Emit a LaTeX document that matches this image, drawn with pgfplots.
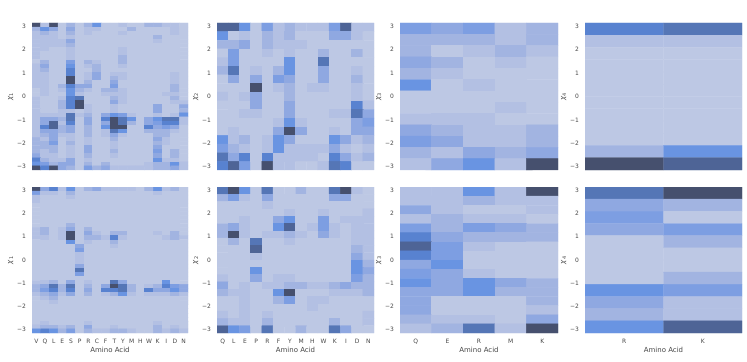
\documentclass[border=0pt]{standalone}
\usepackage{fontspec}
\setmainfont{DejaVu Sans}
\usepackage{pgfplots}
\pgfplotsset{compat=1.18}
\definecolor{txt}{RGB}{70,70,70}
% one heatmap: columns, rows, then the cell levels row by row from the top
\newcommand\hm[3]{\addplot[matrix plot*,mesh/cols=#1,mesh/rows=#2,point meta=explicit]
  table[row sep=\\,header=false,meta index=0,
    x expr={floor(mod(\coordindex+0.5,#1))},
    y expr={3.1416-(floor((\coordindex+0.5)/#1)+0.5)*6.2832/#2}] {#3};}
\pgfplotsset{
  heat/.style={scale only axis,anchor=south west,width=156bp,
    ymin=-3.1416,ymax=3.1416,axis line style={draw=none},
    major tick length=0pt,tick align=outside,
    ytick={-3,-2,-1,0,1,2,3},yticklabels={−3,−2,−1,0,1,2,3},
    tick label style={font=\fontsize{6}{7}\selectfont,text=txt},
    label style={font=\fontsize{7}{8}\selectfont,text=txt},
    xticklabel style={yshift=-3bp},
    yticklabel style={xshift=-2.5bp},
    xlabel style={yshift=4bp},
    ylabel style={yshift=-3bp},
    colormap={rk}{rgb255=(189,200,228) rgb255=(179,192,227) rgb255=(162,180,225)
      rgb255=(143,168,225) rgb255=(125,158,226) rgb255=(105,148,226)
      rgb255=(88,130,208) rgb255=(85,118,182) rgb255=(78,100,150) rgb255=(70,80,110)},
    point meta min=0,point meta max=9},
  top/.style={heat,height=147bp,xtick=\empty},
  bot/.style={heat,height=146bp,xlabel={Amino Acid}},
}
\begin{document}
\begin{tikzpicture}[x=1bp,y=1bp]
\path[use as bounding box] (0,0) rectangle (747,361);

\begin{axis}[top,at={(32bp,191bp)},xmin=-0.5,xmax=17.5,ylabel={\textit{χ}\textsubscript{1}}]
\hm{18}{36}{
9\\1\\9\\0\\2\\0\\2\\5\\0\\0\\1\\0\\0\\2\\2\\1\\1\\0\\
2\\5\\3\\0\\3\\0\\1\\1\\0\\0\\0\\2\\0\\0\\0\\0\\1\\0\\
1\\2\\1\\0\\2\\0\\1\\0\\0\\0\\1\\0\\0\\0\\0\\0\\1\\0\\
1\\1\\1\\0\\1\\0\\0\\0\\0\\0\\0\\0\\0\\0\\2\\0\\0\\0\\
1\\1\\1\\1\\3\\0\\0\\0\\0\\0\\0\\0\\0\\0\\1\\0\\0\\0\\
1\\1\\1\\1\\2\\0\\0\\0\\0\\0\\0\\0\\0\\0\\0\\0\\0\\0\\
1\\1\\0\\0\\1\\0\\0\\0\\0\\0\\1\\0\\0\\0\\0\\0\\0\\0\\
1\\0\\0\\0\\1\\0\\0\\0\\0\\0\\1\\0\\0\\0\\0\\0\\0\\0\\
1\\0\\0\\0\\1\\0\\0\\0\\0\\0\\2\\0\\0\\0\\0\\0\\0\\0\\
0\\2\\0\\0\\4\\0\\2\\1\\0\\0\\2\\0\\0\\0\\0\\0\\0\\0\\
1\\3\\0\\0\\5\\0\\1\\2\\0\\0\\1\\0\\0\\0\\0\\0\\0\\0\\
1\\2\\0\\0\\6\\0\\0\\2\\0\\0\\0\\0\\0\\0\\0\\0\\0\\0\\
1\\1\\0\\0\\6\\0\\1\\3\\0\\1\\1\\0\\0\\0\\0\\0\\1\\0\\
1\\1\\0\\0\\9\\0\\1\\3\\0\\2\\1\\0\\0\\0\\0\\0\\1\\0\\
1\\1\\0\\0\\9\\0\\2\\0\\0\\3\\0\\0\\0\\0\\0\\0\\1\\0\\
1\\1\\0\\2\\6\\3\\3\\0\\0\\4\\0\\0\\0\\0\\0\\0\\2\\0\\
0\\1\\0\\1\\5\\2\\1\\0\\2\\2\\1\\0\\0\\0\\0\\0\\2\\0\\
0\\1\\0\\0\\5\\1\\0\\0\\1\\1\\1\\0\\0\\0\\0\\1\\1\\0\\
1\\0\\0\\1\\6\\7\\0\\0\\0\\2\\1\\0\\0\\0\\0\\0\\2\\0\\
1\\0\\0\\2\\6\\9\\0\\0\\0\\3\\1\\0\\0\\0\\0\\0\\1\\1\\
1\\0\\0\\2\\6\\9\\1\\0\\0\\1\\0\\0\\0\\0\\3\\0\\0\\3\\
1\\0\\0\\1\\1\\0\\1\\0\\0\\1\\0\\0\\0\\0\\3\\0\\0\\2\\
1\\1\\1\\1\\7\\1\\2\\0\\3\\5\\4\\1\\0\\0\\1\\0\\1\\5\\
1\\3\\3\\2\\7\\0\\3\\0\\6\\9\\7\\5\\0\\3\\5\\7\\7\\1\\
1\\3\\8\\1\\6\\0\\3\\0\\3\\9\\7\\2\\0\\3\\4\\6\\6\\1\\
1\\6\\8\\2\\3\\0\\2\\0\\5\\9\\9\\0\\0\\6\\3\\4\\3\\0\\
1\\3\\3\\2\\3\\0\\2\\0\\1\\7\\5\\0\\0\\2\\2\\2\\1\\0\\
1\\2\\3\\1\\1\\0\\2\\0\\1\\3\\1\\0\\0\\0\\2\\2\\0\\0\\
2\\1\\3\\0\\1\\0\\1\\0\\0\\2\\0\\0\\0\\0\\3\\1\\0\\0\\
2\\2\\4\\0\\2\\0\\1\\0\\0\\1\\0\\0\\0\\0\\2\\1\\0\\0\\
2\\2\\2\\0\\1\\0\\3\\0\\0\\1\\0\\0\\0\\0\\3\\0\\0\\0\\
2\\1\\2\\0\\1\\0\\3\\0\\0\\2\\0\\0\\0\\0\\4\\0\\2\\0\\
3\\1\\1\\0\\1\\0\\2\\0\\0\\1\\0\\0\\0\\0\\3\\0\\2\\0\\
6\\2\\1\\1\\3\\0\\1\\0\\0\\0\\0\\0\\0\\0\\5\\1\\1\\0\\
5\\4\\2\\3\\3\\0\\2\\0\\2\\0\\0\\0\\0\\1\\2\\2\\5\\1\\
9\\6\\9\\3\\2\\0\\4\\2\\3\\1\\1\\1\\1\\1\\2\\2\\3\\1\\
}
\end{axis}

\begin{axis}[top,at={(217bp,191bp)},width=157bp,xmin=-0.5,xmax=13.5,ylabel={\textit{χ}\textsubscript{2}}]
\hm{14}{17}{
8\\8\\5\\0\\4\\1\\2\\1\\1\\1\\4\\8\\1\\1\\
5\\0\\1\\0\\2\\1\\2\\0\\0\\0\\3\\3\\1\\0\\
2\\2\\3\\0\\2\\1\\1\\1\\0\\0\\0\\0\\0\\0\\
0\\4\\0\\0\\1\\0\\1\\0\\0\\2\\0\\0\\2\\0\\
1\\4\\0\\0\\0\\0\\5\\0\\0\\7\\0\\0\\0\\0\\
2\\7\\0\\1\\0\\2\\5\\0\\0\\3\\0\\0\\1\\0\\
0\\3\\0\\3\\0\\4\\3\\0\\0\\3\\0\\0\\2\\0\\
0\\0\\0\\9\\0\\1\\2\\0\\1\\1\\0\\0\\1\\0\\
1\\0\\1\\3\\0\\0\\2\\0\\0\\0\\0\\0\\1\\0\\
0\\0\\0\\3\\0\\0\\3\\0\\0\\0\\0\\0\\6\\1\\
0\\0\\1\\1\\0\\0\\3\\0\\0\\0\\1\\1\\7\\3\\
0\\0\\0\\0\\0\\1\\5\\1\\0\\0\\0\\0\\3\\4\\
0\\1\\0\\0\\0\\3\\9\\3\\0\\0\\1\\0\\3\\3\\
5\\1\\2\\0\\1\\5\\3\\0\\0\\0\\5\\3\\1\\2\\
4\\2\\1\\0\\1\\5\\1\\1\\1\\1\\3\\1\\0\\1\\
7\\3\\6\\0\\6\\1\\1\\1\\1\\0\\6\\3\\1\\2\\
6\\8\\4\\0\\9\\1\\1\\0\\0\\1\\7\\6\\0\\0\\
}
\end{axis}

\begin{axis}[top,at={(400bp,191bp)},width=158bp,xmin=-0.5,xmax=4.5,ylabel={\textit{χ}\textsubscript{3}}]
\hm{5}{13}{
4\\3\\4\\1\\2\\
2\\2\\2\\1\\2\\
2\\0\\1\\2\\1\\
3\\2\\0\\1\\0\\
2\\1\\0\\0\\0\\
5\\0\\1\\0\\0\\
0\\0\\0\\0\\0\\
0\\0\\0\\1\\0\\
1\\1\\1\\0\\0\\
3\\2\\1\\1\\2\\
4\\3\\1\\1\\2\\
2\\1\\3\\2\\3\\
1\\3\\5\\1\\9\\
}
\end{axis}

\begin{axis}[top,at={(585bp,191bp)},width=157bp,xmin=-0.5,xmax=1.5,ylabel={\textit{χ}\textsubscript{4}}]
\hm{2}{12}{
6\\7\\
1\\1\\
0\\0\\
0\\0\\
0\\0\\
0\\0\\
0\\0\\
0\\0\\
0\\0\\
0\\0\\
2\\5\\
9\\8\\
}
\end{axis}

\begin{axis}[bot,at={(32bp,28bp)},xmin=-0.5,xmax=17.5,xtick={0,...,17},
  xticklabels={V,Q,L,E,S,P,R,C,F,T,Y,M,H,W,K,I,D,N},ylabel={\textit{χ}\textsubscript{1}}]
\hm{18}{36}{
9\\3\\6\\1\\5\\0\\2\\3\\1\\1\\1\\1\\0\\2\\5\\1\\2\\0\\
4\\1\\1\\0\\2\\0\\0\\0\\0\\0\\0\\0\\0\\0\\1\\0\\0\\0\\
1\\0\\0\\0\\1\\0\\0\\0\\0\\0\\0\\0\\0\\0\\0\\0\\0\\0\\
1\\0\\0\\0\\0\\0\\0\\0\\0\\0\\0\\0\\0\\0\\0\\0\\0\\0\\
0\\0\\0\\0\\0\\0\\0\\0\\0\\0\\0\\0\\0\\0\\0\\0\\0\\0\\
0\\0\\0\\0\\0\\0\\0\\0\\0\\0\\0\\0\\0\\0\\0\\0\\0\\0\\
0\\0\\0\\0\\0\\0\\0\\0\\0\\0\\0\\0\\0\\0\\0\\0\\0\\0\\
0\\0\\0\\0\\0\\0\\0\\0\\0\\0\\0\\0\\0\\0\\0\\0\\0\\0\\
0\\0\\0\\0\\0\\0\\0\\0\\0\\0\\0\\0\\0\\0\\0\\0\\0\\0\\
0\\0\\0\\0\\2\\0\\0\\0\\0\\0\\0\\0\\0\\0\\0\\0\\0\\0\\
1\\2\\0\\1\\3\\0\\2\\0\\0\\0\\0\\0\\0\\0\\0\\0\\0\\0\\
1\\2\\0\\1\\9\\0\\3\\1\\0\\2\\2\\0\\0\\0\\1\\0\\2\\0\\
1\\1\\0\\1\\9\\0\\2\\2\\1\\6\\1\\0\\0\\0\\0\\1\\2\\1\\
0\\0\\0\\0\\5\\0\\1\\0\\0\\2\\0\\0\\0\\0\\0\\0\\0\\0\\
0\\0\\0\\0\\0\\3\\0\\0\\0\\1\\0\\0\\0\\0\\0\\0\\0\\0\\
0\\0\\0\\0\\0\\4\\0\\0\\0\\0\\0\\0\\0\\0\\0\\0\\0\\0\\
0\\0\\0\\0\\0\\1\\0\\0\\0\\0\\0\\0\\0\\0\\0\\0\\0\\0\\
0\\0\\0\\0\\0\\1\\0\\0\\0\\0\\0\\0\\0\\0\\0\\0\\0\\0\\
0\\0\\0\\0\\0\\1\\0\\0\\0\\0\\0\\0\\0\\0\\0\\0\\0\\0\\
0\\0\\0\\0\\0\\3\\0\\0\\0\\0\\0\\0\\0\\0\\0\\0\\0\\0\\
0\\0\\0\\0\\0\\7\\0\\0\\0\\0\\0\\0\\0\\0\\0\\0\\0\\0\\
0\\0\\0\\0\\0\\4\\0\\0\\0\\0\\0\\0\\0\\0\\0\\0\\0\\0\\
0\\0\\0\\0\\0\\0\\0\\0\\0\\0\\0\\0\\0\\0\\0\\0\\0\\0\\
1\\1\\2\\0\\3\\0\\1\\0\\0\\7\\3\\0\\0\\0\\0\\5\\0\\0\\
2\\3\\7\\2\\7\\0\\2\\0\\3\\9\\7\\2\\0\\1\\2\\6\\4\\3\\
2\\4\\6\\2\\6\\0\\3\\0\\6\\6\\7\\2\\0\\6\\3\\3\\5\\3\\
1\\2\\3\\1\\3\\0\\2\\0\\1\\2\\5\\1\\0\\1\\1\\1\\2\\1\\
0\\1\\2\\0\\0\\0\\0\\0\\0\\0\\0\\0\\0\\0\\0\\0\\0\\0\\
0\\0\\1\\0\\0\\0\\0\\0\\0\\0\\0\\0\\0\\0\\0\\0\\0\\0\\
0\\0\\0\\0\\0\\0\\0\\0\\0\\0\\0\\0\\0\\0\\0\\0\\0\\0\\
0\\0\\0\\0\\0\\0\\0\\0\\0\\0\\0\\0\\0\\0\\0\\0\\0\\0\\
0\\0\\0\\0\\0\\0\\0\\0\\0\\0\\0\\0\\0\\0\\0\\0\\0\\0\\
0\\0\\0\\0\\0\\0\\0\\0\\0\\0\\0\\0\\0\\0\\0\\0\\0\\0\\
0\\1\\0\\0\\0\\0\\1\\0\\0\\0\\0\\0\\0\\0\\1\\0\\0\\0\\
1\\2\\2\\1\\2\\0\\3\\0\\0\\1\\0\\0\\0\\0\\2\\0\\1\\0\\
5\\6\\5\\2\\4\\0\\2\\1\\1\\2\\2\\1\\0\\0\\2\\1\\2\\1\\
}
\end{axis}

\begin{axis}[bot,at={(217bp,28bp)},width=157bp,xmin=-0.5,xmax=13.5,xtick={0,...,13},
  xticklabels={Q,L,E,P,R,F,Y,M,H,W,K,I,D,N},ylabel={\textit{χ}\textsubscript{2}}]
\hm{14}{20}{
7\\9\\5\\0\\7\\0\\0\\2\\0\\0\\7\\9\\1\\0\\
2\\4\\1\\0\\3\\0\\0\\0\\0\\0\\3\\3\\0\\0\\
0\\0\\0\\0\\1\\0\\0\\0\\0\\0\\0\\0\\0\\0\\
0\\0\\0\\0\\0\\0\\1\\0\\0\\1\\0\\0\\0\\1\\
0\\0\\1\\0\\0\\3\\5\\0\\0\\4\\0\\1\\1\\1\\
2\\3\\1\\0\\0\\5\\8\\0\\1\\4\\1\\0\\1\\1\\
2\\9\\1\\0\\1\\1\\2\\1\\0\\3\\1\\0\\1\\1\\
0\\2\\0\\7\\0\\0\\1\\0\\0\\0\\0\\0\\1\\1\\
0\\0\\0\\8\\0\\0\\0\\0\\0\\0\\0\\0\\2\\1\\
0\\0\\0\\1\\0\\0\\0\\0\\0\\0\\0\\0\\3\\1\\
0\\0\\0\\0\\0\\0\\0\\0\\0\\0\\0\\0\\5\\2\\
0\\0\\0\\5\\0\\0\\0\\0\\0\\0\\0\\0\\5\\3\\
1\\0\\0\\3\\0\\1\\1\\0\\0\\0\\0\\0\\4\\2\\
3\\0\\1\\0\\1\\1\\2\\2\\1\\1\\2\\3\\2\\2\\
2\\1\\1\\0\\0\\5\\9\\0\\0\\0\\1\\1\\1\\2\\
0\\0\\1\\0\\0\\2\\4\\0\\1\\1\\0\\0\\0\\0\\
0\\0\\1\\0\\0\\0\\0\\0\\1\\0\\0\\0\\0\\0\\
1\\0\\1\\0\\1\\0\\0\\0\\0\\0\\0\\0\\0\\1\\
2\\1\\1\\0\\2\\0\\0\\0\\0\\0\\2\\0\\0\\1\\
8\\5\\4\\0\\7\\0\\0\\2\\0\\0\\7\\3\\0\\0\\
}
\end{axis}

\begin{axis}[bot,at={(400bp,28bp)},width=158bp,xmin=-0.5,xmax=4.5,xtick={0,...,4},
  xticklabels={Q,E,R,M,K},ylabel={\textit{χ}\textsubscript{3}}]
\hm{5}{16}{
1\\1\\5\\1\\9\\
1\\1\\2\\1\\1\\
3\\1\\0\\0\\1\\
1\\2\\1\\1\\0\\
4\\2\\4\\3\\2\\
6\\3\\2\\2\\2\\
8\\4\\1\\0\\0\\
6\\4\\0\\0\\0\\
3\\5\\0\\0\\0\\
4\\3\\1\\0\\0\\
5\\3\\5\\3\\2\\
3\\3\\5\\2\\2\\
3\\0\\0\\0\\2\\
3\\0\\0\\0\\1\\
2\\1\\1\\0\\3\\
1\\2\\7\\1\\9\\
}
\end{axis}

\begin{axis}[bot,at={(585bp,28bp)},width=157bp,xmin=-0.5,xmax=1.5,xtick={0,1},
  xticklabels={R,K},ylabel={\textit{χ}\textsubscript{4}}]
\hm{2}{12}{
7\\9\\
3\\2\\
4\\0\\
3\\4\\
0\\2\\
0\\0\\
0\\0\\
0\\2\\
5\\4\\
3\\1\\
2\\1\\
5\\8\\
}
\end{axis}
\end{tikzpicture}
\end{document}
